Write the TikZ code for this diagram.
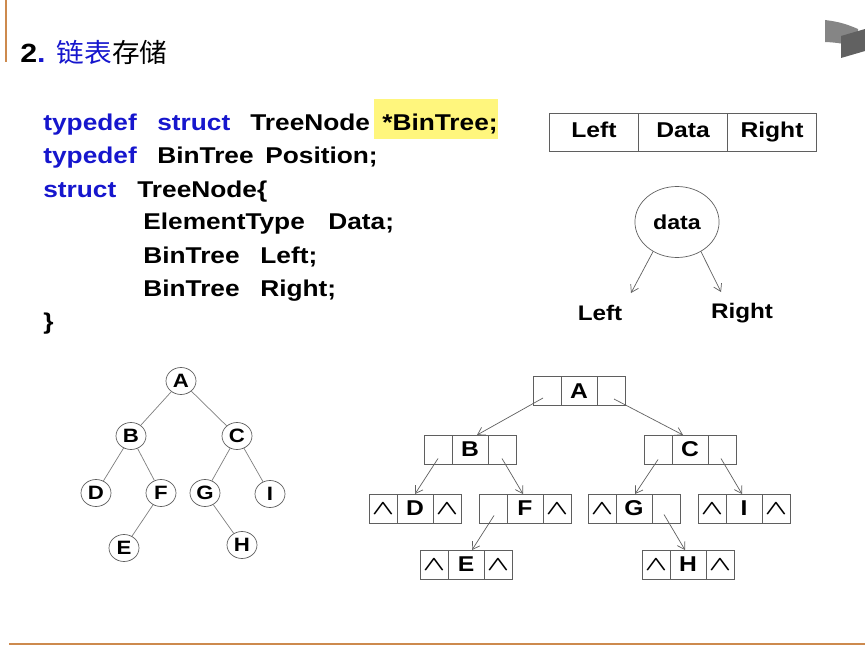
\documentclass[tikz,border=0pt]{standalone}
\usepackage{fontspec}
\setmainfont[FakeStretch=1.15]{Liberation Sans}
\newfontfamily\cjk[FakeStretch=1.05]{Noto Sans CJK SC}
\usepackage{xcolor}
\usepackage{graphicx}
\usepackage{tikz}
\usetikzlibrary{arrows.meta}
\usetikzlibrary{calc}
\usetikzlibrary{shapes, positioning}

\definecolor{kwblue}{RGB}{22,22,205}
\definecolor{hiyellow}{RGB}{255,246,125}
\definecolor{rulebrown}{RGB}{205,138,78}
\definecolor{edgegray}{RGB}{95,95,95}

\newcommand{\lnkbox}[6]{%
 \node[midcell] (#1) at (#2,#3) {#4};
 \node[sidecell, left=0pt of #1] (#1l) {#5};
 \node[sidecell, right=0pt of #1] (#1r) {#6};}
\newcommand{\nil}{\raisebox{-3pt}{\fontsize{14}{14}\selectfont\scalebox{1.15}[0.8]{\boldmath$\wedge$}}}

\begin{document}
\begin{tikzpicture}[x=0.02cm, y=-0.02cm, >={Straight Barb[length=4pt,width=5pt]},
 codeword/.style={anchor=base west, inner sep=0pt, font=\fontsize{13}{15}\selectfont\bfseries},
 kw/.style={codeword, text=kwblue},
 fieldcell/.style={draw=edgegray, thin, minimum width=1.78cm, minimum height=0.76cm, inner sep=0pt, outer sep=0pt, text height=1.6ex, text depth=0.45ex, font=\fontsize{12.2}{14}\selectfont\bfseries},
 midcell/.style={draw=edgegray, thin, minimum width=0.72cm, minimum height=0.58cm, inner sep=0pt, outer sep=0pt, font=\fontsize{12.2}{13}\selectfont\bfseries},
 sidecell/.style={midcell, minimum width=0.56cm},
 treenode/.style={ellipse, draw=edgegray, thin, minimum width=0.6cm, minimum height=0.54cm, inner sep=0pt, font=\fontsize{11}{12}\selectfont\bfseries},
 treeedge/.style={draw=edgegray!80, thin},
 lnk/.style={->, draw=edgegray, thin}]
\useasboundingbox (0,0) rectangle (865,655);

% slide frame
\draw[rulebrown, line width=1.2pt] (6,0)--(6,62);
\draw[rulebrown, line width=1.2pt] (9,644)--(865,644);
\fill[black!48] (825,20) to[bend left=8] (858,29) -- (858,48) to[bend right=8] (825,42) -- cycle;
\fill[black!62] (841,36) -- (865,29) -- (865,51) -- (841,58) -- cycle;

\node[anchor=base west, inner sep=0pt, font=\fontsize{15}{17}\selectfont] (title) at (20,63)
 {\bfseries 2\textcolor{kwblue}{.} {\cjk\mdseries\textcolor{kwblue}{链表}存储}};

% code
\fill[hiyellow] (374,99) rectangle (498,139);
\node[kw] (ln1a) at (43,131) {typedef};
\node[kw] (ln1b) at (157,131) {struct};
\node[codeword] (ln1c) at (250,131) {TreeNode};
\node[codeword] (ln1d) at (382,131) {*BinTree;};
\node[kw] (ln2a) at (43,164) {typedef};
\node[codeword] (ln2b) at (157,164) {BinTree};
\node[codeword] (ln2c) at (265,164) {Position;};
\node[kw] (ln3a) at (43,197) {struct};
\node[codeword] (ln3b) at (137,197) {TreeNode\{};
\node[codeword] (ln4a) at (143,230) {ElementType};
\node[codeword] (ln4b) at (328,230) {Data;};
\node[codeword] (ln5a) at (143,263) {BinTree};
\node[codeword] (ln5b) at (260,263) {Left;};
\node[codeword] (ln6a) at (143,296) {BinTree};
\node[codeword] (ln6b) at (260,296) {Right;};
\node[codeword] (ln7) at (43,329) {\}};

% node layout
\node[fieldcell] (fdata) at (683,132) {Data};
\node[fieldcell, left=0pt of fdata] (fleft) {Left};
\node[fieldcell, right=0pt of fdata] (fright) {Right};

\node[ellipse, draw=edgegray, thin, minimum width=1.6cm, minimum height=1.42cm, font=\fontsize{11.5}{13}\selectfont\bfseries] (data) at (677,222) {data};
\node[font=\fontsize{12}{14}\selectfont\bfseries] (lbl) at (600,313) {Left};
\node[font=\fontsize{12}{14}\selectfont\bfseries] (rbl) at (742,313) {Right};
\coordinate (lblend) at (631,293);
\coordinate (rblend) at (721,292);
\draw[lnk] (data.-129) -- (lblend);
\draw[lnk] (data.-51) -- (rblend);

% binary tree
\node[treenode] (ta) at (181,381) {A};
\node[treenode] (tb) at (131,436) {B};
\node[treenode] (tc) at (237,436) {C};
\node[treenode] (td) at (96,493) {D};
\node[treenode] (tf) at (161,493) {F};
\node[treenode] (tg) at (205,493) {G};
\node[treenode] (ti) at (270,494) {I};
\node[treenode] (te) at (124,548) {E};
\node[treenode] (th) at (242,545) {H};
\draw[treeedge] (ta)--(tb) (ta)--(tc) (tb)--(td) (tb)--(tf) (tf)--(te)
 (tc)--(tg) (tc)--(ti) (tg)--(th);

% linked storage
\lnkbox{A}{579}{391}{A}{}{}
\lnkbox{B}{470}{449.5}{B}{}{}
\lnkbox{C}{690}{449.5}{C}{}{}
\lnkbox{D}{415}{508.5}{D}{\nil}{\nil}
\lnkbox{F}{525}{508.5}{F}{}{\nil}
\lnkbox{G}{634}{508.5}{G}{\nil}{}
\lnkbox{I}{744}{508.5}{I}{\nil}{\nil}
\lnkbox{E}{466}{564.5}{E}{\nil}{\nil}
\lnkbox{H}{688}{564.5}{H}{\nil}{\nil}

\draw[lnk] ([shift={(-4,7)}]Al.center) -- ([shift={(7,0)}]B.north);
\draw[lnk] ([shift={(3,8)}]Ar.center) -- ([shift={(-7,0)}]C.north);
\draw[lnk] ([shift={(0,9)}]Bl.center) -- (D.north);
\draw[lnk] ([shift={(0,9)}]Br.center) -- ([shift={(-2,0)}]F.north);
\draw[lnk] ([shift={(0,10)}]Cl.center) -- ([shift={(1,0)}]G.north);
\draw[lnk] ([shift={(-1,9)}]Cr.center) -- ([shift={(-2,0)}]I.north);
\draw[lnk] ([shift={(1,7)}]Fl.center) -- ([shift={(6,0)}]E.north);
\draw[lnk] ([shift={(-2,6)}]Gr.center) -- ([shift={(-3,0)}]H.north);
\end{tikzpicture}
\end{document}
